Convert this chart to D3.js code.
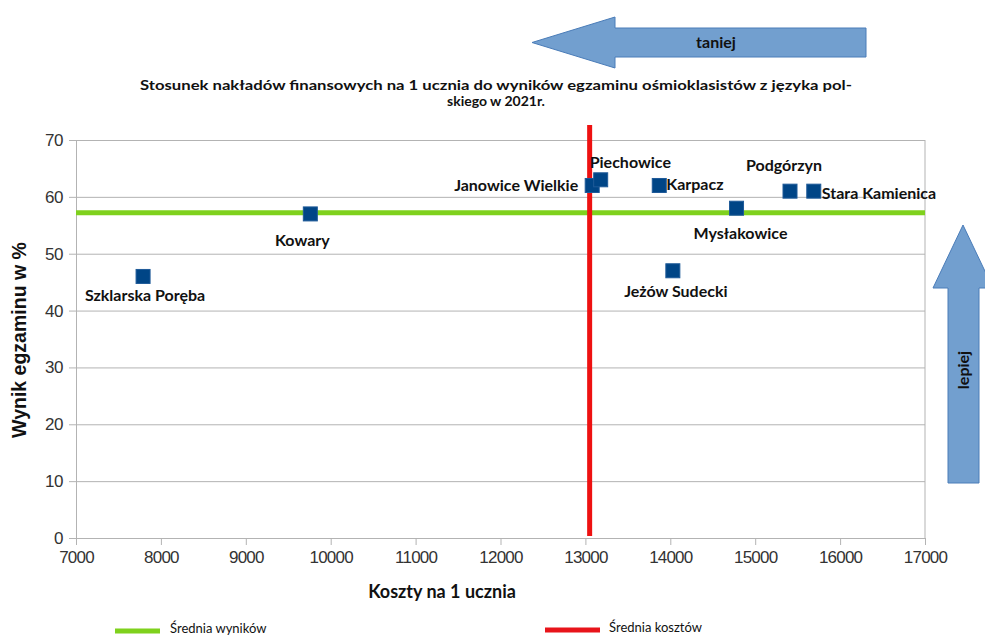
<!DOCTYPE html>
<html><head><meta charset="utf-8">
<script src="https://cdn.jsdelivr.net/npm/d3@7"></script>
<style>
html,body{margin:0;padding:0;background:#fff;}
svg{display:block;}
</style></head>
<body>
<svg id="chart" width="985" height="637"></svg>
<script>
// ---- data ----
const categories = ["Szklarska Poręba","Kowary","Janowice Wielkie","Piechowice","Karpacz","Jeżów Sudecki","Mysłakowice","Podgórzyn","Stara Kamienica"];
const costs  = [7790, 9760, 13080, 13180, 13870, 14030, 14780, 15410, 15690];
const scores = [46, 57, 62, 63, 62, 47, 58, 61, 61];
const avgScore = 57.2;   // Średnia wyników
const avgCost  = 13050;  // Średnia kosztów
const xTickValues = [7000,8000,9000,10000,11000,12000,13000,14000,15000,16000,17000];
const yTickValues = [0,10,20,30,40,50,60,70];
const titleLines = ["Stosunek nakładów finansowych na 1 ucznia do wyników egzaminu ośmioklasistów z języka pol-","skiego w 2021r."];
const xTitle = "Koszty na 1 ucznia";
const yTitle = "Wynik egzaminu w %";
const legendItems = ["Średnia wyników","Średnia kosztów"];
const arrowLabels = ["taniej","lepiej"];

// ---- label placement (layout only) ----
const labelPlace = {
  "Szklarska Poręba": ["middle", 2, 25],
  "Kowary": ["middle", -8, 32],
  "Janowice Wielkie": ["end", -14, 6],
  "Piechowice": ["start", -11, -12],
  "Karpacz": ["start", 7, 5],
  "Jeżów Sudecki": ["middle", 3, 26],
  "Mysłakowice": ["middle", 4, 31],
  "Podgórzyn": ["middle", -6, -20],
  "Stara Kamienica": ["start", 8, 8]
};

const svg = d3.select("#chart");
const L = 76, R = 925, T = 140, B = 538;
const x = d3.scaleLinear().domain([7000,17000]).range([L,R]);
const y = d3.scaleLinear().domain([0,70]).range([B,T]);
const gridC = "#b3b3b3";
const labelFont = "Lato, 'Open Sans', sans-serif";

// grid
svg.append("g").attr("transform",`translate(${L},0)`)
  .call(d3.axisLeft(y).tickValues(yTickValues).tickSize(-(R-L)).tickFormat(""))
  .call(g=>g.select(".domain").remove())
  .call(g=>g.selectAll("line").attr("stroke",gridC));
// right border
svg.append("line").attr("x1",R).attr("x2",R).attr("y1",T).attr("y2",B).attr("stroke",gridC);

// y axis
const ya = svg.append("g").attr("transform",`translate(${L},0)`)
  .call(d3.axisLeft(y).tickValues(yTickValues).tickSize(7).tickSizeOuter(0).tickPadding(6));
ya.select(".domain").attr("stroke",gridC);
ya.selectAll("line").attr("stroke",gridC);
ya.selectAll("text").attr("font-family","'Liberation Sans', Arial, sans-serif").attr("font-size",17).attr("fill","#333").attr("letter-spacing","-0.5");

// x axis
const xa = svg.append("g").attr("transform",`translate(0,${B})`)
  .call(d3.axisBottom(x).tickValues(xTickValues).tickSize(7).tickSizeOuter(0).tickPadding(6).tickFormat(d=>String(d)));
xa.select(".domain").attr("stroke",gridC);
xa.selectAll("line").attr("stroke",gridC);
xa.selectAll("text").attr("font-family","'Liberation Sans', Arial, sans-serif").attr("font-size",17).attr("fill","#333").attr("letter-spacing","-0.8");

// average lines
svg.append("line").attr("x1",x(7000)).attr("x2",x(17000)).attr("y1",y(avgScore)).attr("y2",y(avgScore))
  .attr("stroke","#7fd11d").attr("stroke-width",5);
svg.append("line").attr("x1",x(avgCost)).attr("x2",x(avgCost)).attr("y1",y(70)-15).attr("y2",y(0)-2)
  .attr("stroke","#ee1111").attr("stroke-width",5);

// points
const pts = categories.map((c,i)=>({name:c,cx:costs[i],sc:scores[i]}));
svg.append("g").selectAll("rect").data(pts).join("rect")
  .attr("x",d=>x(d.cx)-7).attr("y",d=>y(d.sc)-7).attr("width",14).attr("height",14)
  .attr("fill","#004586").attr("stroke","#1f5a98").attr("stroke-width",1);

// labels
svg.append("g").selectAll("text").data(pts).join("text")
  .attr("x",d=>x(d.cx)+labelPlace[d.name][1]).attr("y",d=>y(d.sc)+labelPlace[d.name][2])
  .attr("text-anchor",d=>labelPlace[d.name][0])
  .attr("font-family",labelFont).attr("font-weight","bold").attr("font-size",16).attr("fill","#111")
  .text(d=>d.name);

// title
svg.append("text").attr("x",496).attr("y",90).attr("text-anchor","middle")
  .attr("font-family",labelFont).attr("font-weight","bold").attr("font-size",14).attr("fill","#111")
  .attr("textLength",712).attr("lengthAdjust","spacingAndGlyphs").text(titleLines[0]);
svg.append("text").attr("x",496).attr("y",106).attr("text-anchor","middle")
  .attr("font-family",labelFont).attr("font-weight","bold").attr("font-size",14).attr("fill","#111")
  .text(titleLines[1]);

// axis titles
svg.append("text").attr("x",442).attr("y",598).attr("text-anchor","middle")
  .attr("font-family",labelFont).attr("font-weight","bold").attr("font-size",18).attr("fill","#111").text(xTitle);
svg.append("text").attr("transform","translate(26,340) rotate(-90)").attr("text-anchor","middle")
  .attr("font-family","'Liberation Sans', Arial, sans-serif").attr("font-weight","bold").attr("font-size",19.5).attr("fill","#111").text(yTitle);

// legend
const lg = svg.append("g");
lg.append("line").attr("x1",115).attr("x2",160).attr("y1",631).attr("y2",631).attr("stroke","#7fd11d").attr("stroke-width",5);
lg.append("text").attr("x",170).attr("y",633).attr("font-family",labelFont).attr("font-size",13).attr("fill","#111").text(legendItems[0]);
lg.append("line").attr("x1",545).attr("x2",600).attr("y1",630).attr("y2",630).attr("stroke","#e8141a").attr("stroke-width",5);
lg.append("text").attr("x",609).attr("y",632).attr("font-family",labelFont).attr("font-size",13).attr("fill","#111").text(legendItems[1]);

// arrows
const arrowFill = "#729fcf", arrowStroke = "#4a7cb8";
const leftArrow = [[532,42.5],[615,17],[615,28],[866,28],[866,57],[615,57],[615,68]];
svg.append("path").attr("d",d3.line()(leftArrow)+"Z").attr("fill",arrowFill).attr("stroke",arrowStroke).attr("stroke-width",1);
svg.append("text").attr("x",716).attr("y",48).attr("text-anchor","middle")
  .attr("font-family",labelFont).attr("font-weight","bold").attr("font-size",16).attr("fill","#111").text(arrowLabels[0]);
const upArrow = [[963,225],[993,288],[979,288],[979,483],[948,483],[948,288],[933,288]];
svg.append("path").attr("d",d3.line()(upArrow)+"Z").attr("fill",arrowFill).attr("stroke",arrowStroke).attr("stroke-width",1);
svg.append("text").attr("transform","translate(969,370) rotate(-90)").attr("text-anchor","middle")
  .attr("font-family",labelFont).attr("font-weight","bold").attr("font-size",16).attr("fill","#111").text(arrowLabels[1]);
</script>
</body></html>
